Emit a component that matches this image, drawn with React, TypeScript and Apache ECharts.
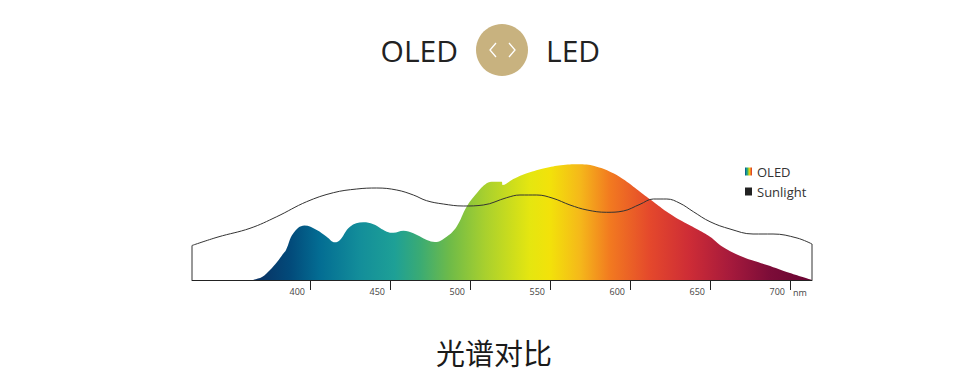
import React, { useEffect, useRef } from "react";
import * as echarts from "echarts";

// Wavelength (nm) and relative intensity
const oledWavelengths = [363.75, 370, 375, 379.4, 383.1, 385, 389.6, 396.5, 404.2, 410.4, 415.6, 418.75, 425, 433.3, 439.6, 448, 452.1, 458.4, 464.6, 473, 478.1, 485.4, 491.6, 497.9, 504.2, 510.4, 514.6, 519.8, 520.4, 527.1, 537.5, 548, 558.3, 568.75, 579.2, 589.6, 598, 606.25, 614.6, 623, 631.25, 641.7, 650, 658.1, 670.6, 685.6, 700, 713.75];
const oledValues = [0, 3, 10, 18, 26, 30, 46.7, 54.5, 50, 43.3, 37.7, 40, 53.3, 57.7, 55.7, 48.3, 47.3, 49.3, 46.7, 40, 38, 43.3, 53.3, 73.3, 86.7, 96.7, 98.3, 98.3, 95, 101, 107.7, 112.3, 115, 115.7, 113.3, 106.7, 98.3, 88.3, 78.3, 68.3, 60, 51, 43.3, 33, 23, 15, 7, 0];

const sunWavelengths = [326.25, 342.5, 362.5, 379.2, 397.9, 414.6, 429.2, 441.7, 454.2, 464.6, 472.9, 483.3, 495.8, 508.3, 522.9, 531.25, 541.7, 551.9, 562.5, 573.2, 585.4, 595.8, 606.25, 614.6, 623, 631.25, 639.6, 650, 662.5, 676.9, 689.4, 704.4, 713.75];
const sunValues = [34.5, 43, 51.7, 63.3, 78.3, 87.3, 91, 92, 90, 85, 79.3, 76, 74, 75, 82.3, 85, 85, 81.7, 75, 70, 67.7, 69, 75.7, 81, 81, 76.7, 68.3, 58.3, 51, 46, 46, 42, 36];

const tickValues = [400, 450, 500, 550, 600, 650, 700];
const xMin = 326.25;
const xMax = 713.75;

const seriesNames = ["OLED", "Sunlight"];

const spectrumStops = [
  { offset: 0, color: "#0a2f60" },
  { offset: 0.068, color: "#024a7a" },
  { offset: 0.121, color: "#036d93" },
  { offset: 0.193, color: "#138e9a" },
  { offset: 0.255, color: "#1ea096" },
  { offset: 0.3, color: "#3aab74" },
  { offset: 0.354, color: "#6fbb48" },
  { offset: 0.416, color: "#a8d02e" },
  { offset: 0.496, color: "#e5e610" },
  { offset: 0.532, color: "#f2e20a" },
  { offset: 0.586, color: "#f5b81a" },
  { offset: 0.639, color: "#f27a20" },
  { offset: 0.711, color: "#e4482c" },
  { offset: 0.782, color: "#cd2c36" },
  { offset: 0.854, color: "#a61a3c" },
  { offset: 0.925, color: "#7c0c38" },
  { offset: 1, color: "#680432" },
];

const legendStops = [
  { offset: 0, color: "#0a4a80" },
  { offset: 0.2, color: "#109a9a" },
  { offset: 0.4, color: "#4ab05a" },
  { offset: 0.6, color: "#e8e010" },
  { offset: 0.8, color: "#f28020" },
  { offset: 1, color: "#d02a30" },
];

export default function App() {
  const ref = useRef<HTMLDivElement>(null);

  useEffect(() => {
    if (!ref.current) return;
    const chart = echarts.init(ref.current, undefined, { renderer: "svg" });
    const oledData = oledWavelengths.map((w, i) => [w, oledValues[i]]);
    const sunData = sunWavelengths.map((w, i) => [w, sunValues[i]]);
    const firstSun = sunData[0];
    const lastSun = sunData[sunData.length - 1];

    chart.setOption({
      animation: false,
      backgroundColor: "#ffffff",
      textStyle: { fontFamily: "'Open Sans', 'Noto Sans', sans-serif" },
      grid: { left: 192, right: 148, top: 150, bottom: 101 },
      xAxis: {
        type: "value",
        min: xMin,
        max: xMax,
        splitLine: { show: false },
        axisLine: { show: true, lineStyle: { color: "#222", width: 1 } },
        axisTick: {
          show: true,
          customValues: tickValues,
          length: 10,
          lineStyle: { color: "#222", width: 1 },
        },
        axisLabel: {
          show: true,
          customValues: tickValues,
          align: "right",
          padding: [0, 5, 0, 0],
          margin: 7,
          fontSize: 9,
          color: "#444",
        },
      },
      yAxis: { type: "value", min: 0, max: 130, show: false },
      legend: {
        orient: "vertical",
        left: 745,
        top: 165,
        padding: 0,
        itemWidth: 7,
        itemHeight: 8,
        itemGap: 7,
        icon: "rect",
        textStyle: { fontSize: 13, color: "#333" },
        data: [
          {
            name: seriesNames[0],
            itemStyle: { color: new echarts.graphic.LinearGradient(0, 0, 1, 0, legendStops) },
          },
          { name: seriesNames[1], itemStyle: { color: "#222" } },
        ],
      },
      series: [
        {
          name: seriesNames[0],
          type: "line",
          data: oledData,
          smooth: 0.4,
          showSymbol: false,
          symbol: "none",
          lineStyle: { width: 0 },
          itemStyle: { color: "#222" },
          areaStyle: {
            opacity: 1,
            color: new echarts.graphic.LinearGradient(252, 0, 812, 0, spectrumStops, true),
          },
          z: 1,
        },
        {
          name: seriesNames[1],
          type: "line",
          data: sunData,
          smooth: 0.4,
          showSymbol: false,
          symbol: "none",
          itemStyle: { color: "#222" },
          lineStyle: { color: "#333", width: 1 },
          z: 3,
        },
        {
          name: "edgeLeft",
          type: "line",
          data: [[firstSun[0], 0], firstSun],
          showSymbol: false,
          symbol: "none",
          lineStyle: { color: "#333", width: 1 },
          z: 3,
        },
        {
          name: "edgeRight",
          type: "line",
          data: [[lastSun[0], 0], lastSun],
          showSymbol: false,
          symbol: "none",
          lineStyle: { color: "#333", width: 1 },
          z: 3,
        },
      ],
      graphic: [
        {
          type: "text",
          x: 458,
          y: 50,
          style: {
            text: "OLED",
            align: "right",
            verticalAlign: "middle",
            fontSize: 30,
            fontFamily: "'Open Sans', sans-serif",
            fill: "#222",
          },
        },
        {
          type: "circle",
          shape: { cx: 502, cy: 50, r: 26 },
          style: { fill: "#c8b27f" },
        },
        {
          type: "polyline",
          shape: { points: [[496, 43], [490, 50], [496, 57]] },
          style: { stroke: "#ffffff", lineWidth: 1.3, fill: null },
        },
        {
          type: "polyline",
          shape: { points: [[509, 43], [515, 50], [509, 57]] },
          style: { stroke: "#ffffff", lineWidth: 1.3, fill: null },
        },
        {
          type: "text",
          x: 546,
          y: 50,
          style: {
            text: "LED",
            align: "left",
            verticalAlign: "middle",
            fontSize: 30,
            fontFamily: "'Open Sans', sans-serif",
            fill: "#222",
          },
        },
        {
          type: "text",
          x: 793,
          y: 292,
          style: {
            text: "nm",
            align: "left",
            verticalAlign: "middle",
            fontSize: 9,
            fontFamily: "'Open Sans', sans-serif",
            fill: "#444",
          },
        },
        {
          type: "text",
          x: 494,
          y: 352,
          style: {
            text: "光谱对比",
            align: "center",
            verticalAlign: "middle",
            fontSize: 29,
            fontFamily: "'Noto Sans CJK SC', sans-serif",
            fill: "#1a1a1a",
          },
        },
      ],
    });
    return () => chart.dispose();
  }, []);

  return (
    <div
      ref={ref}
      style={{ position: "fixed", left: 0, top: 0, width: 960, height: 381 }}
    />
  );
}
